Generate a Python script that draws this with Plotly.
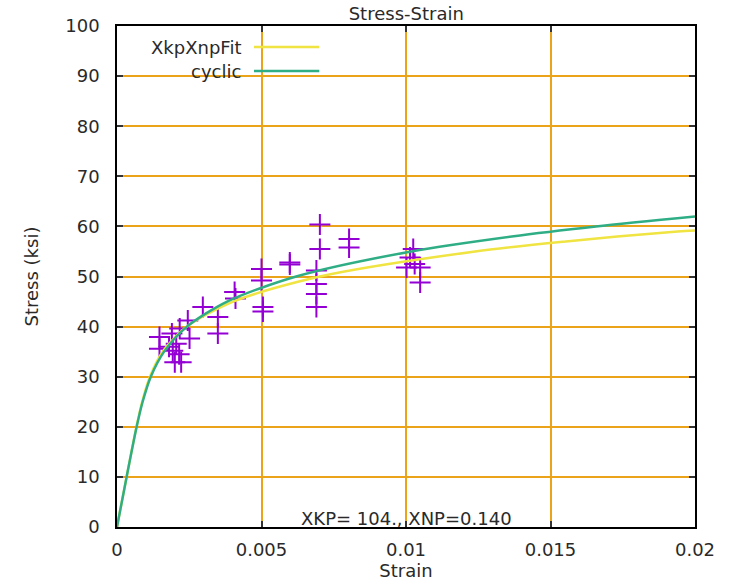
import plotly.graph_objects as go

# XkpXnpFit curve (strain, stress ksi)
fit_strain = [0.0, 0.000333, 0.000674, 0.000871, 0.00114, 0.00158, 0.00242, 0.00402, 0.00702, 0.01239, 0.01553, 0.0194, 0.0200]
fit_stress = [0.0, 10.0, 20.0, 25.0, 30.0, 35.0, 40.0, 45.0, 50.0, 55.0, 57.0, 59.0, 59.2]

# cyclic curve
cyc_strain = [0.0, 0.000333, 0.00068, 0.000887, 0.00117, 0.00163, 0.00242, 0.00381, 0.0062, 0.01018, 0.01366, 0.01657, 0.0200]
cyc_stress = [0.0, 10.0, 20.0, 25.0, 30.0, 35.0, 40.0, 45.0, 50.0, 55.0, 58.0, 60.0, 62.0]

# test data points
pt_strain = [0.00147, 0.00147, 0.00193, 0.00200, 0.00222, 0.00205, 0.00217, 0.00190, 0.00245, 0.00251,
             0.00297, 0.00349, 0.00349, 0.00407, 0.00410, 0.00500, 0.00500, 0.00505, 0.00505, 0.00598,
             0.00598, 0.00690, 0.00690, 0.00690, 0.00690, 0.00702, 0.00702, 0.00803, 0.00803, 0.01025,
             0.01014, 0.01002, 0.01030, 0.01049, 0.01049, 0.00215, 0.00180]
pt_stress = [37.9, 35.6, 35.2, 32.9, 32.9, 36.6, 39.6, 38.6, 41.2, 37.6,
             43.9, 41.9, 38.6, 46.9, 45.6, 51.5, 49.2, 43.9, 43.0, 52.8,
             52.4, 51.2, 48.5, 46.5, 43.9, 60.4, 55.5, 57.5, 55.8, 55.5,
             53.8, 51.8, 52.5, 51.8, 48.8, 34.5, 36.0]

x_ticks = [0, 0.005, 0.01, 0.015, 0.02]
x_ticklabels = ["0", "0.005", "0.01", "0.015", "0.02"]
y_ticks = [0, 10, 20, 30, 40, 50, 60, 70, 80, 90, 100]

FONT = "DejaVu Sans"
FS = 18
TXT = "#2a2a2a"
GRID = "#eba41a"
YELLOW = "#f0e442"
GREEN = "#2fae85"
PURPLE = "#9400d3"

fig = go.Figure()
fig.add_trace(go.Scatter(x=pt_strain, y=pt_stress, mode="markers", name="data",
                         marker=dict(symbol="cross-thin", size=15,
                                     line=dict(color=PURPLE, width=2), color=PURPLE),
                         showlegend=False))
fig.add_trace(go.Scatter(x=fit_strain, y=fit_stress, mode="lines", name="XkpXnpFit",
                         line=dict(color=YELLOW, width=2.5, shape="spline", smoothing=0.8),
                         showlegend=False))
fig.add_trace(go.Scatter(x=cyc_strain, y=cyc_stress, mode="lines", name="cyclic",
                         line=dict(color=GREEN, width=2.5, shape="spline", smoothing=0.8),
                         showlegend=False))

axis_common = dict(showline=True, linecolor="black", linewidth=1.5, mirror="ticks",
                   ticks="inside", ticklen=6, tickcolor="#333333", tickwidth=1.5,
                   showgrid=True, gridcolor=GRID, gridwidth=2, zeroline=False,
                   tickfont=dict(family=FONT, size=FS, color=TXT))

fig.update_xaxes(range=[0, 0.02], tickvals=x_ticks, ticktext=x_ticklabels,
                 title=dict(text="Strain", font=dict(family=FONT, size=FS, color=TXT), standoff=0),
                 ticklabelstandoff=6, **axis_common)
fig.update_yaxes(range=[0, 100], tickvals=y_ticks,
                 title=dict(text="Stress (ksi)", font=dict(family=FONT, size=FS, color=TXT), standoff=22),
                 ticklabelstandoff=12, **axis_common)

# legend drawn like the original (text right-aligned, sample to the right)
legend_items = [("XkpXnpFit", YELLOW, 0.958), ("cyclic", GREEN, 0.910)]
for label, color, yy in legend_items:
    fig.add_annotation(x=0.218, y=yy, xref="paper", yref="paper", text=label, showarrow=False,
                       xanchor="right", yanchor="middle", font=dict(family=FONT, size=FS, color=TXT))
    fig.add_shape(type="line", xref="paper", yref="paper", x0=0.237, x1=0.35, y0=yy, y1=yy,
                  line=dict(color=color, width=2.5))

fig.add_annotation(x=0.01, y=1.6, xref="x", yref="y", text="XKP= 104., XNP=0.140", showarrow=False,
                   xanchor="center", yanchor="middle", font=dict(family=FONT, size=FS, color=TXT))

fig.update_layout(
    width=732, height=585,
    margin=dict(l=117, r=37, t=26, b=56),
    paper_bgcolor="white", plot_bgcolor="white",
    title=dict(text="Stress-Strain", x=0.555, xanchor="center", y=0.976, yanchor="middle",
               font=dict(family=FONT, size=FS, color=TXT)),
    showlegend=False,
)

fig.write_html("out.html")
